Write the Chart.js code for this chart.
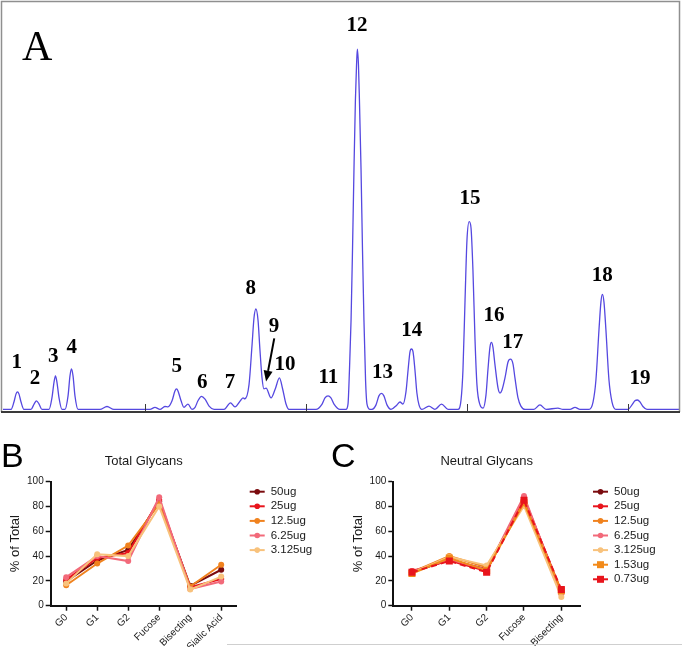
<!DOCTYPE html>
<html><head><meta charset="utf-8">
<script src="https://cdn.jsdelivr.net/npm/chart.js@4.4.1/dist/chart.umd.min.js"></script>
<style>
html,body{margin:0;padding:0;background:#fff;}
#wrap{position:relative;width:682px;height:647px;overflow:hidden;background:#fff;}
canvas{position:absolute;}
.plabel{position:absolute;line-height:1;white-space:nowrap;color:#000;}
</style></head><body>
<div id="wrap">
<canvas id="cA" width="682" height="416" style="left:0;top:0;width:682px;height:416px"></canvas>
<canvas id="cB" width="340" height="207" style="left:0;top:440px;width:340px;height:207px"></canvas>
<canvas id="cC" width="342" height="207" style="left:340px;top:440px;width:342px;height:207px"></canvas>
<div class="plabel" style="left:22px;top:22px;font:42px 'Liberation Serif',serif">A</div>
<div class="plabel" style="left:1px;top:436px;font:34px 'Liberation Sans',sans-serif">B</div>
<div class="plabel" style="left:331px;top:436px;font:34px 'Liberation Sans',sans-serif">C</div>
<div style="position:absolute;left:227px;top:644px;width:455px;height:1px;background:#cfcfcf"></div>
</div>
<script>
// ---------- Panel A: chromatogram (retention time in min, signal in EU) ----------
const traceTime = [
  1.18,
  1.68,1.86,1.99,2.08,2.17,2.30,2.48,
  2.92,3.11,3.26,3.42,3.60,
  4.04,4.22,4.35,4.44,4.53,4.66,4.84,
  5.03,5.22,5.34,5.43,5.53,5.65,5.84,
  7.20,7.64,8.07,
  10.31,10.62,10.93,11.24,
  11.43,11.68,11.86,11.96,12.05,12.24,12.42,
  12.67,12.92,
  13.11,13.29,13.51,13.73,13.98,14.29,
  14.91,15.31,15.59,15.96,16.09,16.20,
  16.46,16.65,16.77,16.89,17.02,17.14,17.27,
  17.39,17.52,17.83,18.09,18.35,18.55,18.76,18.94,
  20.62,21.00,21.18,21.37,21.55,21.74,22.11,
  22.48,22.61,22.70,22.80,22.89,22.98,23.07,23.14,23.19,23.26,23.32,23.42,23.51,23.60,23.70,23.79,23.98,
  24.10,24.35,24.53,24.69,24.84,25.03,25.28,
  25.65,25.84,26.02,
  26.21,26.34,26.46,26.55,26.65,26.77,26.89,27.02,27.20,
  27.64,28.01,28.42,28.82,
  29.44,29.63,29.75,29.88,30.00,30.14,30.25,30.37,30.50,30.62,30.81,31.00,
  31.18,31.30,31.43,31.52,31.61,31.74,31.93,32.05,
  32.17,32.36,32.55,32.70,32.86,32.98,33.17,33.35,33.60,
  34.16,34.53,34.91,35.65,35.96,36.40,36.71,37.02,
  37.58,37.83,38.01,38.20,38.32,38.41,38.51,38.63,38.82,39.01,39.25,
  40.00,40.25,40.43,40.59,40.75,40.93,41.18,
  43.17
];
const traceSignal = [
  0.4,
  0.4,2.2,4.2,4.7,4.2,2.2,0.4,
  0.4,1.7,2.5,1.7,0.4,
  0.4,3.2,7.1,8.6,7.1,3.2,0.4,
  0.4,3.7,8.6,10.3,8.6,3.7,0.4,
  0.4,1.1,0.4,
  0.4,0.9,0.4,1.1,
  1.0,2.5,4.9,5.4,4.9,2.5,0.9,
  1.7,0.4,
  0.9,2.5,3.6,2.9,1.2,0.4,
  0.4,2.0,1.0,2.7,3.2,3.0,
  6.4,16.2,22.8,25.0,22.3,15.0,8.1,
  5.4,5.6,3.2,5.4,8.1,5.4,1.7,0.4,
  0.4,1.7,3.2,3.7,3.2,1.7,0.4,
  0.4,1.7,10.0,22.3,39.5,59.1,76.2,84.8,88.7,84.8,76.2,59.1,39.5,22.3,7.6,1.7,0.4,
  0.4,1.5,3.7,4.3,3.7,1.5,0.4,
  1.5,2.2,1.7,
  4.7,10.0,14.5,15.2,14.5,10.0,4.4,1.5,0.4,
  1.2,0.4,1.7,0.4,
  0.4,2.7,10.0,27.2,41.9,46.4,44.9,34.6,17.4,6.4,1.5,0.7,
  3.9,10.0,15.7,16.8,15.7,11.3,5.6,4.4,
  5.1,8.1,12.0,12.7,11.5,8.1,3.2,1.2,0.4,
  0.4,1.5,0.4,0.7,0.4,0.4,0.9,0.4,
  0.4,2.2,7.6,19.9,26.7,28.6,26.7,19.9,7.6,2.2,0.4,
  0.4,1.5,2.5,2.7,2.2,1.1,0.4,
  0.4
];
const timeTicks = [10, 20, 30, 40];
const peakLabels = ['1','2','3','4','5','6','7','8','9','10','11','12','13','14','15','16','17','18','19'];
const peakLabelTime = [2.03,3.17,4.30,5.45,11.97,13.56,15.28,16.57,18.01,18.70,21.39,23.17,24.76,26.57,30.19,31.68,32.84,38.40,40.75];
const peakLabelSignal = [10.5,6.6,12.1,14.3,9.6,5.6,5.6,28.7,19.4,10.0,6.8,93.1,8.0,18.4,50.7,22.1,15.4,31.9,6.6];
const arrowFrom = [18.03, 17.8];
const arrowTo = [17.52, 7.2];

// ---------- Panel B: Total Glycans ----------
const totalCats = ['G0','G1','G2','Fucose','Bisecting','Sialic Acid'];
const totalNames = ['50ug','25ug','12.5ug','6.25ug','3.125ug'];
const total50 = [19.5, 36.5, 45, 84, 16, 29];
const total25 = [21, 38.5, 42.5, 85.5, 15, 21.5];
const total12_5 = [16.5, 34, 48.5, 82, 15.5, 33];
const total6_25 = [23, 40, 36, 87.5, 13.5, 19.5];
const total3_125 = [18, 41.5, 40, 80, 13, 23.5];

// ---------- Panel C: Neutral Glycans ----------
const neutralCats = ['G0','G1','G2','Fucose','Bisecting'];
const neutralNames = ['50ug','25ug','12.5ug','6.25ug','3.125ug','1.53ug','0.73ug'];
const neutral50 = [27, 37, 29.5, 86, 11];
const neutral25 = [28, 36.5, 28, 87, 11.5];
const neutral12_5 = [27, 40, 31, 83.5, 10];
const neutral6_25 = [27.5, 37.5, 29, 88.5, 9.5];
const neutral3_125 = [26.5, 39.5, 32.5, 80.5, 7];
const neutral1_53 = [26, 38.5, 28.5, 83, 12];
const neutral0_73 = [27, 36, 27, 85, 13];
const yTicks = [0, 20, 40, 60, 80, 100];

const seriesColors = ['#7a0b0e','#e8141c','#f0821e','#f26a7a','#f8c27c','#f28a1a','#e8141c'];

Chart.defaults.font.family = "'Liberation Sans', Arial, sans-serif";

const framePlugin = {
  id: 'frameA',
  afterDraw(chart) {
    const {ctx, chartArea: a, scales: {x, y}} = chart;
    ctx.save();
    ctx.strokeStyle = '#8f8f8f'; ctx.lineWidth = 1.5;
    ctx.beginPath();
    ctx.moveTo(a.left - 1.5, a.bottom + 1);
    ctx.lineTo(a.left - 1.5, a.top - 1.5);
    ctx.lineTo(a.right + 0.5, a.top - 1.5);
    ctx.lineTo(a.right + 0.5, a.bottom + 1);
    ctx.stroke();
    ctx.strokeStyle = '#3a3a3a'; ctx.lineWidth = 2;
    ctx.beginPath(); ctx.moveTo(a.left - 2, a.bottom + 1); ctx.lineTo(a.right + 1, a.bottom + 1); ctx.stroke();
    ctx.lineWidth = 1;
    timeTicks.forEach(v => {
      const px = Math.round(x.getPixelForValue(v)) + 0.5;
      ctx.beginPath(); ctx.moveTo(px, a.bottom - 7); ctx.lineTo(px, a.bottom + 1); ctx.stroke();
    });
    ctx.fillStyle = '#000';
    ctx.font = "bold 21px 'Liberation Serif', serif";
    ctx.textAlign = 'center'; ctx.textBaseline = 'alphabetic';
    peakLabels.forEach((l, i) => {
      ctx.fillText(l, x.getPixelForValue(peakLabelTime[i]), y.getPixelForValue(peakLabelSignal[i]));
    });
    // arrow to peak 9
    const x0 = x.getPixelForValue(arrowFrom[0]), y0 = y.getPixelForValue(arrowFrom[1]);
    const x1 = x.getPixelForValue(arrowTo[0]), y1 = y.getPixelForValue(arrowTo[1]);
    const ang = Math.atan2(y1 - y0, x1 - x0);
    const hl = 11, hw = 4.5;
    const bx = x1 - hl * Math.cos(ang), by = y1 - hl * Math.sin(ang);
    ctx.strokeStyle = '#000'; ctx.lineWidth = 2;
    ctx.beginPath(); ctx.moveTo(x0, y0); ctx.lineTo(bx, by); ctx.stroke();
    ctx.beginPath();
    ctx.moveTo(x1, y1);
    ctx.lineTo(bx + hw * Math.sin(ang), by - hw * Math.cos(ang));
    ctx.lineTo(bx - hw * Math.sin(ang), by + hw * Math.cos(ang));
    ctx.closePath(); ctx.fill();
    ctx.restore();
  }
};

new Chart(document.getElementById('cA'), {
  type: 'line',
  data: { datasets: [{
    data: traceTime.map((t, i) => ({x: t, y: traceSignal[i]})),
    borderColor: '#5548e0', borderWidth: 1.3, pointRadius: 0,
    cubicInterpolationMode: 'monotone', fill: false
  }]},
  options: {
    responsive: false, animation: false, events: [],
    layout: { padding: { left: 3, top: 3, right: 3, bottom: 5 } },
    scales: {
      x: { type: 'linear', display: false, min: 1.18, max: 43.17 },
      y: { display: false, min: 0, max: 100 }
    },
    plugins: { legend: { display: false }, tooltip: { enabled: false } }
  },
  plugins: [framePlugin]
});

const sideLegend = {
  id: 'sideLegend',
  afterDraw(chart, args, opts) {
    const {ctx, chartArea: a} = chart;
    ctx.save();
    ctx.font = "11.5px 'Liberation Sans', Arial, sans-serif";
    ctx.textBaseline = 'middle'; ctx.textAlign = 'left';
    chart.data.datasets.forEach((ds, i) => {
      const yy = a.top + 10 + i * 14.6;
      const xs = a.right + 13, xe = a.right + 28, xm = (xs + xe) / 2;
      ctx.strokeStyle = ds.borderColor; ctx.lineWidth = 2;
      ctx.beginPath(); ctx.moveTo(xs, yy); ctx.lineTo(xe, yy); ctx.stroke();
      ctx.fillStyle = ds.borderColor;
      if (ds.pointStyle === 'rect') { ctx.fillRect(xm - 3.5, yy - 3.5, 7, 7); }
      else { ctx.beginPath(); ctx.arc(xm, yy, 2.8, 0, Math.PI * 2); ctx.fill(); }
      ctx.fillStyle = '#1a1a1a';
      ctx.fillText(ds.label, a.right + 34, yy);
    });
    ctx.font = "13px 'Liberation Sans', Arial, sans-serif";
    ctx.textAlign = 'center';
    ctx.fillStyle = '#1a1a1a';
    ctx.fillText(opts.title, (a.left + a.right) / 2, a.top - 20);
    ctx.restore();
  }
};

function makePanel(id, cats, names, series, styles, dashes, title, yWidth, rightPad, yTitlePad) {
  return new Chart(document.getElementById(id), {
    type: 'line',
    data: {
      labels: cats,
      datasets: series.map((d, i) => ({
        label: names[i], data: d,
        borderColor: seriesColors[i], backgroundColor: seriesColors[i],
        pointBackgroundColor: seriesColors[i], pointBorderColor: seriesColors[i],
        borderWidth: 2, pointStyle: styles[i], pointRadius: styles[i] === 'rect' ? 5 : 3,
        pointBorderWidth: 0, borderDash: dashes[i], tension: 0, order: series.length - i
      }))
    },
    options: {
      responsive: false, animation: false, events: [],
      layout: { padding: { left: 0, top: 41.7, right: rightPad, bottom: 0 } },
      scales: {
        x: {
          offset: true,
          grid: { drawOnChartArea: false, drawTicks: true, tickLength: 5, tickWidth: 1.5, tickColor: '#111' },
          border: { display: true, color: '#111', width: 2 },
          ticks: { font: { size: 10 }, color: '#1a1a1a', minRotation: 45, maxRotation: 45, autoSkip: false, padding: 1 },
          afterFit(s) { s.height = 41.3; }
        },
        y: {
          min: 0, max: 100,
          afterBuildTicks(s) { s.ticks = yTicks.map(v => ({ value: v })); },
          ticks: { font: { size: 10 }, color: '#1a1a1a', padding: 2 },
          grid: { drawOnChartArea: false, tickLength: 5, tickWidth: 1.5, tickColor: '#111' },
          border: { color: '#111', width: 2 },
          title: { display: true, text: '% of Total', font: { size: 13 }, color: '#1a1a1a', padding: { top: yTitlePad, bottom: 0 } },
          afterFit(s) { s.width = yWidth; }
        }
      },
      plugins: { legend: { display: false }, tooltip: { enabled: false }, sideLegend: { title } }
    },
    plugins: [sideLegend]
  });
}

makePanel('cB', totalCats, totalNames,
  [total50, total25, total12_5, total6_25, total3_125],
  ['circle','circle','circle','circle','circle'],
  [[],[],[],[],[]],
  'Total Glycans', 50.7, 103.3, 7.2);

makePanel('cC', neutralCats, neutralNames,
  [neutral50, neutral25, neutral12_5, neutral6_25, neutral3_125, neutral1_53, neutral0_73],
  ['circle','circle','circle','circle','circle','rect','rect'],
  [[],[],[],[],[],[],[6,4]],
  'Neutral Glycans', 53.3, 102, 10.5);
</script>
</body></html>
